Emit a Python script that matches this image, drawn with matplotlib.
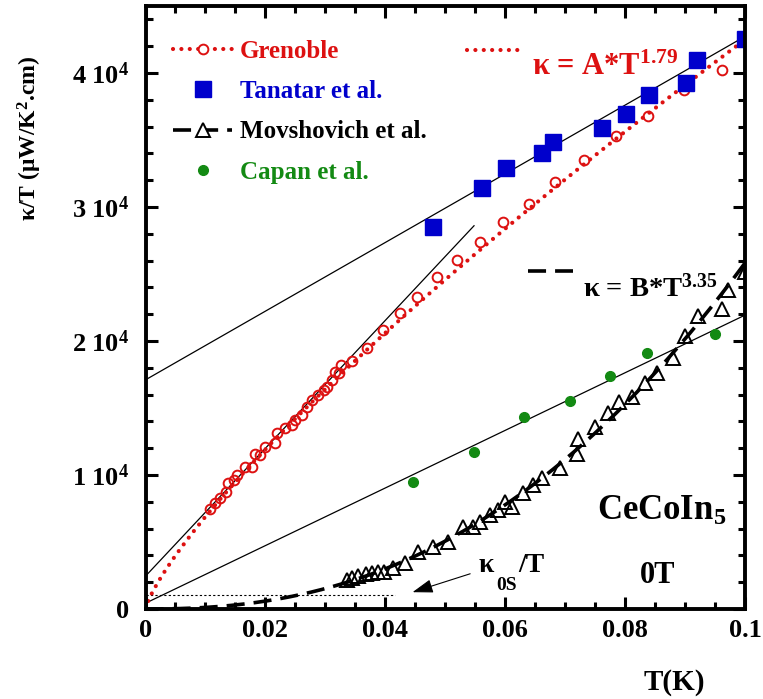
import numpy as np
import matplotlib.pyplot as plt
from matplotlib.lines import Line2D
from matplotlib.ticker import MultipleLocator, FuncFormatter

plt.rcParams['font.family'] = ['Liberation Serif', 'DejaVu Serif']
plt.rcParams['font.weight'] = 'bold'
plt.rcParams['mathtext.fontset'] = 'custom'
plt.rcParams['mathtext.rm'] = 'Liberation Serif:bold'
plt.rcParams['mathtext.it'] = 'Liberation Serif:italic:bold'
plt.rcParams['mathtext.bf'] = 'Liberation Serif:bold'

RED = '#dd1111'
BLUE = '#0000cc'
GREEN = '#138a13'

# Grenoble (open red circles)
gre_T = [0.0108, 0.0116, 0.0124, 0.0135, 0.0138, 0.0147, 0.0152, 0.0166, 0.0177, 0.0183,
         0.0191, 0.0199, 0.0216, 0.0219, 0.0233, 0.0244, 0.0249, 0.0261, 0.0269, 0.0277,
         0.0288, 0.0297, 0.0302, 0.0311, 0.0316, 0.0322, 0.0326, 0.0344, 0.0369, 0.0396,
         0.0425, 0.0453, 0.0486, 0.0520, 0.0558, 0.0597, 0.0640, 0.0683, 0.0731, 0.0784,
         0.0839, 0.0899, 0.0961]
gre_k = [7440, 7890, 8260, 8750, 9380, 9630, 10000, 10620, 10620, 11570,
         11490, 12110, 12370, 13110, 13490, 13730, 14100, 14480, 15100, 15600,
         15970, 16340, 16590, 17090, 17710, 17590, 18210, 18530, 19500, 20820,
         22070, 23260, 24750, 26040, 27410, 28900, 30220, 31890, 33510, 35320,
         36810, 38730, 40220]

# Tanatar et al. (blue squares)
tan_T = [0.0480, 0.0561, 0.0601, 0.0661, 0.0680, 0.0761, 0.0801, 0.0840, 0.0901, 0.0920, 0.1000]
tan_k = [28500, 31440, 32930, 34050, 34870, 35870, 36920, 38360, 39230, 40970, 42540]

# Movshovich et al. (open triangles)
mov_T = [0.0336, 0.0344, 0.0354, 0.0368, 0.0378, 0.0388, 0.0397, 0.0413, 0.0433, 0.0455,
         0.0480, 0.0505, 0.0530, 0.0547, 0.0558, 0.0575, 0.0588, 0.0600, 0.0611, 0.0630,
         0.0647, 0.0661, 0.0691, 0.0719, 0.0722, 0.0750, 0.0772, 0.0789, 0.0811, 0.0833,
         0.0853, 0.0880, 0.0900, 0.0922, 0.0961, 0.0972, 0.1000]
mov_k = [2160, 2310, 2460, 2610, 2690, 2760, 2780, 3040, 3410, 4280,
         4650, 5020, 6140, 6140, 6510, 7010, 7390, 8010, 7630, 8630,
         9250, 9750, 10500, 11570, 12660, 13600, 14650, 15470, 15840, 16840,
         17630, 18710, 20370, 21870, 22390, 23810, 25170]

# Capan et al. (green dots)
cap_T = [0.0446, 0.0548, 0.0632, 0.0708, 0.0775, 0.0836, 0.0950]
cap_k = [9480, 11740, 14350, 15520, 17410, 19130, 20520]

# power-law fits kappa = A*T^1.79 and kappa = B*T^3.35 (kappa/T plotted)
A_fit, a_exp = 262000, 1.79
B_fit, b_exp = 5.78e6, 3.35

# straight guide lines (end points)
line_hi_T, line_hi_k = [0, 0.1], [17100, 42730]
line_st_T, line_st_k = [0, 0.0548], [2450, 28600]
line_lo_T, line_lo_k = [0, 0.1], [430, 21930]
k0s_T, k0s_k = [0, 0.0416], [1050, 1050]

fig = plt.figure(figsize=(7.63, 6.99), dpi=100)
ax = fig.add_axes([0.1907, 0.1288, 0.7857, 0.8626])

red_dots = (0, (0.01, 2.0))
blk_dash = (0, (5, 2.5))

T = np.linspace(0, 0.1, 400)
ax.plot(line_hi_T, line_hi_k, color='k', lw=0.9)
ax.plot(line_st_T, line_st_k, color='k', lw=0.9)
ax.plot(line_lo_T, line_lo_k, color='k', lw=0.9)
ax.plot(k0s_T, k0s_k, color='k', lw=0.8, ls=(0, (2, 2)))

fitA, = ax.plot(T, A_fit * T ** (a_exp - 1), color=RED, lw=3.0, ls=red_dots,
                dash_capstyle='round')
fitB, = ax.plot(T, B_fit * T ** (b_exp - 1), color='k', lw=2.6, ls=blk_dash)

gre, = ax.plot(gre_T, gre_k, 'o', ms=7, mfc='none', mec=RED, mew=1.4)
tan, = ax.plot(tan_T, tan_k, 's', ms=11.5, color=BLUE, mec=BLUE)
mov, = ax.plot(mov_T, mov_k, '^', ms=10, mfc='none', mec='k', mew=1.4)
cap, = ax.plot(cap_T, cap_k, 'o', ms=7, color=GREEN, mec=GREEN)

ax.annotate('', xy=(0.0441, 1190), xytext=(0.0546, 2690),
            arrowprops=dict(arrowstyle='-|>,head_length=0.9,head_width=0.3',
                            color='k', lw=0.8, mutation_scale=14))

ax.set_xlim(0, 0.1)
ax.set_ylim(0, 45000)
ax.xaxis.set_major_locator(MultipleLocator(0.02))
ax.xaxis.set_minor_locator(MultipleLocator(0.005))
ax.yaxis.set_major_locator(MultipleLocator(10000))
ax.yaxis.set_minor_locator(MultipleLocator(2000))
ax.xaxis.set_major_formatter(FuncFormatter(lambda x, p: '0' if x == 0 else f'{x:g}'))
ax.yaxis.set_major_formatter(FuncFormatter(
    lambda y, p: '0' if y == 0 else f'{int(round(y / 1e4))} 10$^4$'))
ax.tick_params(which='both', direction='in', top=True, right=True, width=2.2, labelsize=19)
ax.tick_params(which='major', length=8.5)
ax.tick_params(which='minor', length=5)
ax.tick_params(axis='y', pad=12)
ax.tick_params(axis='x', pad=7)
for s in ax.spines.values():
    s.set_linewidth(2.8)

# data legend
h_gre = Line2D([], [], color=RED, lw=3.0, ls=red_dots, dash_capstyle='round',
               marker='o', ms=7, mfc='white', mec=RED, mew=1.4)
h_mov = Line2D([], [], color='k', lw=2.6, ls=blk_dash,
               marker='^', ms=10, mfc='white', mec='k', mew=1.4)
leg = ax.legend([h_gre, tan, h_mov, cap],
                ['Grenoble', 'Tanatar et al.', 'Movshovich et al.', 'Capan et al.'],
                loc='upper left', bbox_to_anchor=(0.046, 0.944), frameon=False,
                fontsize=18, handlelength=2.36, handletextpad=0.32, labelspacing=0.69,
                labelcolor=[RED, BLUE, 'k', GREEN], borderaxespad=0, borderpad=0)
ax.add_artist(leg)

# fit keys
legA = ax.legend([fitA], [''], loc='center left', bbox_to_anchor=(0.536, 0.924),
                 frameon=False, fontsize=18, handlelength=2.32, handletextpad=0,
                 borderaxespad=0, borderpad=0)
ax.add_artist(legA)
ax.legend([fitB], [''], loc='center left', bbox_to_anchor=(0.638, 0.557),
          frameon=False, fontsize=18, handlelength=1.8, handletextpad=0,
          borderaxespad=0, borderpad=0)

ax.text(0.0644, 39850, 'κ = A*T$^{1.79}$', fontsize=22, color=RED, ha='left', va='baseline')
ax.text(0.0730, 23300, 'κ = B*T$^{3.35}$', fontsize=20.5, ha='left', va='baseline')

ax.text(0.0753, 6640, 'CeCoIn$_5$', fontsize=25, ha='left', va='baseline')
ax.text(0.0825, 1940, '0T', fontsize=22, ha='left', va='baseline')
ax.text(0.0555, 2780, 'κ', fontsize=20, ha='left', va='baseline')
ax.text(0.0585, 1420, '0S', fontsize=14, ha='left', va='baseline')
ax.text(0.0621, 2780, '/T', fontsize=20, ha='left', va='baseline')

fig.text(30 / 763, 1 - 138 / 699, 'κ/T (μW/K$^2$.cm)', rotation=90,
         ha='center', va='center', fontsize=17)
fig.text(674 / 763, 1 - 682 / 699, 'T(K)', ha='center', va='center', fontsize=21)

fig.savefig('out.png', dpi=100)
